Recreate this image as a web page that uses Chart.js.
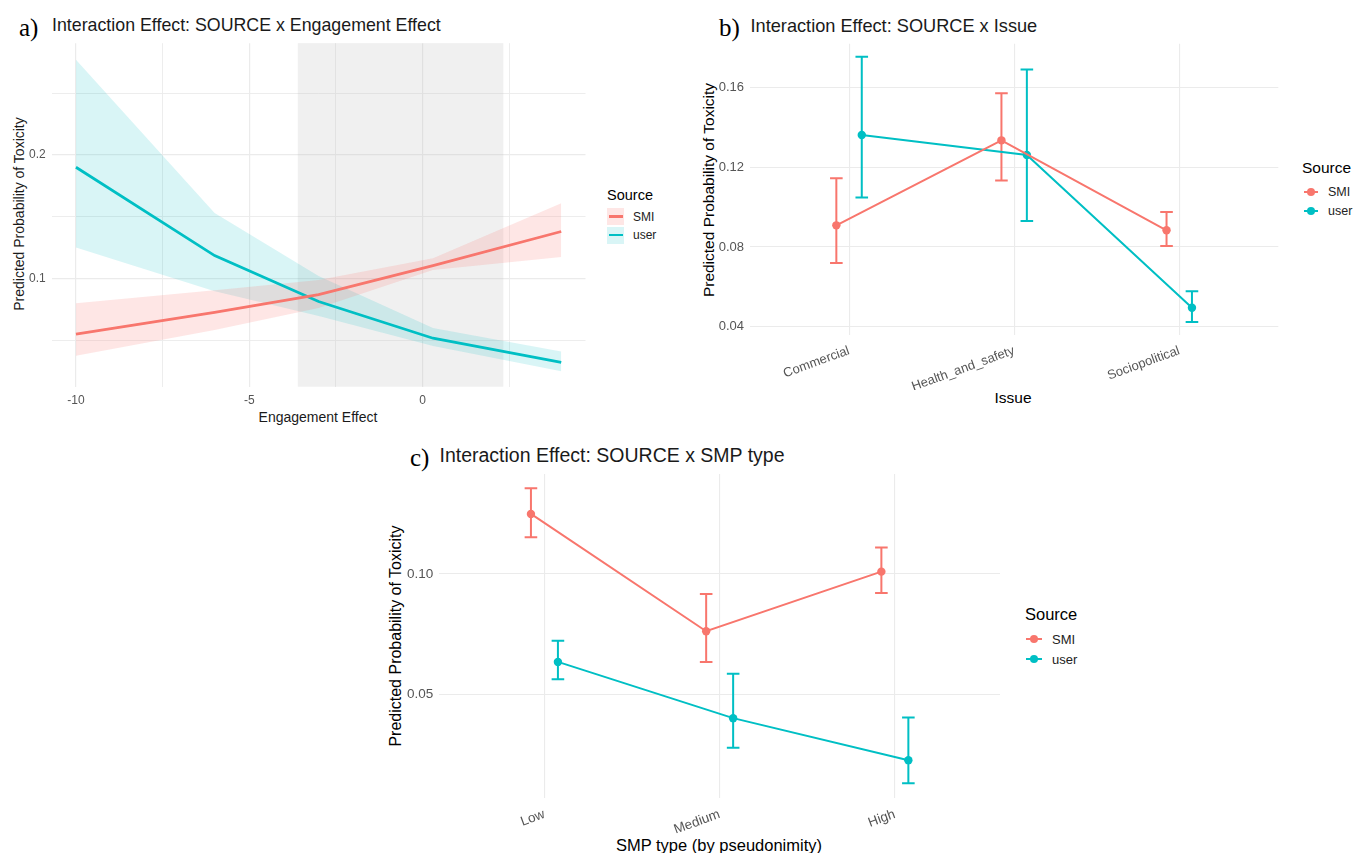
<!DOCTYPE html>
<html>
<head>
<meta charset="utf-8">
<script src="https://cdn.jsdelivr.net/npm/chart.js@4.4.1/dist/chart.umd.min.js"></script>
<style>
  html, body { margin:0; padding:0; background:#fff; }
  body { width:1354px; height:853px; position:relative; overflow:hidden; font-family:"Liberation Sans", Arial, sans-serif; }
  canvas { position:absolute; }
  .t { position:absolute; white-space:nowrap; line-height:1; transform:translateY(-50%); color:#1a1a1a; }
  .lab { position:absolute; white-space:nowrap; line-height:1; transform:translateY(-50%); font-family:"Liberation Serif", "Times New Roman", serif; color:#000; }
  .yt { position:absolute; white-space:nowrap; line-height:1; transform:translate(-50%,-50%) rotate(-90deg); color:#1a1a1a; }
  .xt { position:absolute; white-space:nowrap; line-height:1; transform:translate(-50%,-50%); color:#1a1a1a; }
  .key { position:absolute; }
</style>
</head>
<body>
<!-- Panel a -->
<div class="lab" style="left:19px;top:27px;font-size:25px;">a)</div>
<div class="t" style="left:52px;top:25.5px;font-size:17.8px;">Interaction Effect: SOURCE x Engagement Effect</div>
<div class="yt" style="left:18.5px;top:214px;font-size:14px;">Predicted Probability of Toxicity</div>
<div class="xt" style="left:318px;top:417px;font-size:14px;">Engagement Effect</div>
<canvas id="ca" width="600" height="400" style="left:0;top:30px;width:600px;height:400px"></canvas>
<div id="legA"></div>

<!-- Panel b -->
<div class="lab" style="left:719px;top:27px;font-size:25px;">b)</div>
<div class="t" style="left:750.5px;top:25.5px;font-size:18.2px;">Interaction Effect: SOURCE x Issue</div>
<div class="yt" style="left:709px;top:190px;font-size:15.5px;color:#000;">Predicted Probability of Toxicity</div>
<div class="xt" style="left:1013px;top:398px;font-size:15.5px;color:#000;">Issue</div>
<canvas id="cb" width="600" height="370" style="left:690px;top:30px;width:600px;height:370px"></canvas>
<div id="legB"></div>

<!-- Panel c -->
<div class="lab" style="left:410px;top:457px;font-size:25px;">c)</div>
<div class="t" style="left:439.5px;top:455.5px;font-size:19.5px;">Interaction Effect: SOURCE x SMP type</div>
<div class="yt" style="left:395.5px;top:636px;font-size:16px;color:#000;">Predicted Probability of Toxicity</div>
<div class="xt" style="left:719px;top:845px;font-size:16.5px;color:#000;">SMP type (by pseudonimity)</div>
<canvas id="cc" width="640" height="380" style="left:380px;top:460px;width:640px;height:380px"></canvas>
<div id="legC"></div>

<script>
// ---------------- DATA ----------------
const sourceNames = ['SMI', 'user'];
const sourceColors = ['#F8766D', '#00BFC4'];

// Panel a: Engagement Effect
const engagementX = [-10, -6, -3, 0.3, 4];
const smiFit   = [0.055, 0.0726, 0.087, 0.1105, 0.138];
const smiLower = [0.0375, 0.0584, 0.0762, 0.1068, 0.1174];
const smiUpper = [0.0799, 0.0906, 0.0988, 0.1163, 0.1608];
const userFit   = [0.190, 0.1185, 0.0814, 0.0517, 0.0321];
const userLower = [0.125, 0.0897, 0.0696, 0.0455, 0.0249];
const userUpper = [0.277, 0.153, 0.102, 0.0600, 0.041];
const highlightRange = [-3.6, 2.33];
const engagementTicks = [-10, -7.5, -5, -2.5, 0, 2.5];
const engagementTickLabels = ['-10', '', '-5', '', '0', ''];
const probTicksA = [0.05, 0.10, 0.15, 0.20, 0.25];
const probTickLabelsA = ['', '0.1', '', '0.2', ''];

// Panel b: Issue
const issueCats = ['Commercial', 'Health_and_safety', 'Sociopolitical'];
const issueSMI    = [0.0909, 0.1336, 0.0884];
const issueSMILo  = [0.0720, 0.1134, 0.0805];
const issueSMIHi  = [0.1146, 0.1572, 0.0976];
const issueUser   = [0.1363, 0.1262, 0.0495];
const issueUserLo = [0.1049, 0.0931, 0.0423];
const issueUserHi = [0.1756, 0.1692, 0.0578];
const probTicksB = [0.04, 0.08, 0.12, 0.16];
const probTickLabelsB = ['0.04', '0.08', '0.12', '0.16'];

// Panel c: SMP type
const smpCats = ['Low', 'Medium', 'High'];
const smpSMI    = [0.1248, 0.0762, 0.1009];
const smpSMILo  = [0.1151, 0.0635, 0.0920];
const smpSMIHi  = [0.1354, 0.0916, 0.1109];
const smpUser   = [0.0635, 0.0402, 0.0228];
const smpUserLo = [0.0563, 0.0279, 0.0132];
const smpUserHi = [0.0723, 0.0586, 0.0405];
const probTicksC = [0.05, 0.10];
const probTickLabelsC = ['0.05', '0.10'];

// --------------- HELPERS ---------------
const FONT = '"Liberation Sans", Arial, sans-serif';
const GRID = '#ebebeb';
const dodge = 0.077;

function pts(xs, ys) { return xs.map((x, i) => ({ x: x, y: ys[i] })); }
function dodged(n, off, ys) { return ys.map((y, i) => ({ x: i + off, y: y })); }
function rgba(hex, a) {
  const r = parseInt(hex.slice(1,3),16), g = parseInt(hex.slice(3,5),16), b = parseInt(hex.slice(5,7),16);
  return `rgba(${r},${g},${b},${a})`;
}

const errorBarPlugin = {
  id: 'errorBars',
  beforeDatasetsDraw(chart) {
    const { ctx } = chart; const y = chart.scales.y;
    chart.data.datasets.forEach((ds, di) => {
      if (!ds.errLo) return;
      const meta = chart.getDatasetMeta(di);
      ctx.save();
      ctx.strokeStyle = ds.borderColor; ctx.lineWidth = 2; ctx.lineCap = 'butt';
      meta.data.forEach((pt, i) => {
        const px = pt.x, yl = y.getPixelForValue(ds.errLo[i]), yh = y.getPixelForValue(ds.errHi[i]);
        ctx.beginPath();
        ctx.moveTo(px, yl); ctx.lineTo(px, yh);
        ctx.moveTo(px - 6.3, yl); ctx.lineTo(px + 6.3, yl);
        ctx.moveTo(px - 6.3, yh); ctx.lineTo(px + 6.3, yh);
        ctx.stroke();
      });
      ctx.restore();
    });
  }
};

const highlightPlugin = {
  id: 'highlight',
  beforeDatasetsDraw(chart, args, opts) {
    if (!opts || !opts.range) return;
    const { ctx, chartArea } = chart; const x = chart.scales.x;
    const x0 = x.getPixelForValue(opts.range[0]), x1 = x.getPixelForValue(opts.range[1]);
    ctx.save();
    ctx.fillStyle = 'rgba(185,185,185,0.22)';
    ctx.fillRect(x0, chartArea.top, x1 - x0, chartArea.bottom - chartArea.top);
    ctx.restore();
  }
};

function fixedTicks(values) {
  return (scale) => { scale.ticks = values.map(v => ({ value: v })); };
}

function baseOptions(cfg) {
  return {
    responsive: false, animation: false, devicePixelRatio: 1,
    layout: { padding: cfg.padding },
    plugins: { legend: { display: false }, tooltip: { enabled: false }, title: { display: false } },
    elements: { line: { tension: 0 } },
    scales: {
      x: {
        type: 'linear', min: cfg.xmin, max: cfg.xmax,
        afterBuildTicks: fixedTicks(cfg.xticks),
        afterFit: (s) => { s.height = cfg.xh; },
        grid: { color: cfg.xGridColor || GRID, lineWidth: cfg.xGridWidth || 1.1, drawTicks: false },
        border: { display: false },
        ticks: {
          autoSkip: false, maxRotation: cfg.rot, minRotation: cfg.rot,
          padding: cfg.xpad, color: '#555',
          font: { family: FONT, size: cfg.tickSize },
          callback: (v, i) => cfg.xlabels[i]
        }
      },
      y: {
        type: 'linear', min: cfg.ymin, max: cfg.ymax,
        afterBuildTicks: fixedTicks(cfg.yticks),
        afterFit: (s) => { s.width = cfg.yw; },
        grid: { color: cfg.yGridColor || GRID, lineWidth: cfg.yGridWidth || 1.1, drawTicks: false },
        border: { display: false },
        ticks: {
          padding: 6, color: '#555',
          font: { family: FONT, size: cfg.tickSize },
          callback: (v, i) => cfg.ylabels[i]
        }
      }
    }
  };
}

// --------------- PANEL A ---------------
const optA = baseOptions({
  padding: { left: 11.7, top: 11.7, right: 14.5, bottom: 13.3 },
  xmin: -10.7, xmax: 4.7, xticks: engagementTicks, xlabels: engagementTickLabels,
  ymin: 0.0125, ymax: 0.2903, yticks: probTicksA, ylabels: probTickLabelsA,
  xh: 30, yw: 40, rot: 0, xpad: 7, tickSize: 12,
  xGridWidth: (c) => (c.index % 2 === 0 ? 1.2 : 0.9),
  yGridWidth: (c) => (c.index % 2 === 1 ? 1.2 : 0.9)
});
optA.plugins.highlight = { range: highlightRange };

new Chart(document.getElementById('ca'), {
  type: 'line',
  data: {
    datasets: [
      { label: 'SMI', data: pts(engagementX, smiFit), borderColor: sourceColors[0], borderWidth: 2.8, pointRadius: 0, fill: false },
      { label: 'user', data: pts(engagementX, userFit), borderColor: sourceColors[1], borderWidth: 2.8, pointRadius: 0, fill: false },
      { label: 'SMI upper', data: pts(engagementX, smiUpper), borderWidth: 0, borderColor: 'rgba(0,0,0,0)', pointRadius: 0, fill: '+1', backgroundColor: rgba(sourceColors[0], 0.18) },
      { label: 'SMI lower', data: pts(engagementX, smiLower), borderWidth: 0, borderColor: 'rgba(0,0,0,0)', pointRadius: 0, fill: false },
      { label: 'user upper', data: pts(engagementX, userUpper), borderWidth: 0, borderColor: 'rgba(0,0,0,0)', pointRadius: 0, fill: '+1', backgroundColor: rgba(sourceColors[1], 0.15) },
      { label: 'user lower', data: pts(engagementX, userLower), borderWidth: 0, borderColor: 'rgba(0,0,0,0)', pointRadius: 0, fill: false }
    ]
  },
  options: optA,
  plugins: [highlightPlugin]
});

// --------------- PANEL B ---------------
const optB = baseOptions({
  padding: { left: 10, top: 13.3, right: 11.7, bottom: 10 },
  xmin: -0.6, xmax: 2.6, xticks: [0, 1, 2], xlabels: issueCats,
  ymin: 0.0358, ymax: 0.1821, yticks: probTicksB, ylabels: probTickLabelsB,
  xh: 55, yw: 50, rot: 20, xpad: 8, tickSize: 13
});
new Chart(document.getElementById('cb'), {
  type: 'line',
  data: {
    datasets: [
      { label: 'SMI', data: dodged(3, -dodge, issueSMI), errLo: issueSMILo, errHi: issueSMIHi,
        borderColor: sourceColors[0], backgroundColor: sourceColors[0], borderWidth: 2, pointRadius: 4.2, pointBorderWidth: 0, fill: false },
      { label: 'user', data: dodged(3, dodge, issueUser), errLo: issueUserLo, errHi: issueUserHi,
        borderColor: sourceColors[1], backgroundColor: sourceColors[1], borderWidth: 2, pointRadius: 4.2, pointBorderWidth: 0, fill: false }
    ]
  },
  options: optB,
  plugins: [errorBarPlugin]
});

// --------------- PANEL C ---------------
const optC = baseOptions({
  padding: { left: 9.3, top: 13.3, right: 20, bottom: 6.7 },
  xmin: -0.6, xmax: 2.6, xticks: [0, 1, 2], xlabels: smpCats,
  ymin: 0.0070, ymax: 0.1413, yticks: probTicksC, ylabels: probTickLabelsC,
  xh: 35, yw: 50, rot: 20, xpad: 8, tickSize: 13.5
});
new Chart(document.getElementById('cc'), {
  type: 'line',
  data: {
    datasets: [
      { label: 'SMI', data: dodged(3, -dodge, smpSMI), errLo: smpSMILo, errHi: smpSMIHi,
        borderColor: sourceColors[0], backgroundColor: sourceColors[0], borderWidth: 2, pointRadius: 4.2, pointBorderWidth: 0, fill: false },
      { label: 'user', data: dodged(3, dodge, smpUser), errLo: smpUserLo, errHi: smpUserHi,
        borderColor: sourceColors[1], backgroundColor: sourceColors[1], borderWidth: 2, pointRadius: 4.2, pointBorderWidth: 0, fill: false }
    ]
  },
  options: optC,
  plugins: [errorBarPlugin]
});

// --------------- LEGENDS (HTML) ---------------
function legend(el, cfg) {
  let h = `<div class="t" style="left:${cfg.x}px;top:${cfg.titleY}px;font-size:${cfg.titleSize}px;color:#000;">Source</div>`;
  sourceNames.forEach((name, i) => {
    const cy = cfg.itemY[i];
    if (cfg.band) {
      h += `<div class="key" style="left:${cfg.x}px;top:${cy - 8.5}px;width:17px;height:17px;background:${rgba(sourceColors[i], i === 0 ? 0.18 : 0.15)};"></div>`;
      h += `<div class="key" style="left:${cfg.x + 1.5}px;top:${cy - 1.4}px;width:14px;height:2.8px;background:${sourceColors[i]};"></div>`;
    } else {
      h += `<div class="key" style="left:${cfg.keyX0}px;top:${cy - 1}px;width:${cfg.keyX1 - cfg.keyX0}px;height:2px;background:${sourceColors[i]};"></div>`;
      const mx = (cfg.keyX0 + cfg.keyX1) / 2;
      h += `<div class="key" style="left:${mx - 4.2}px;top:${cy - 4.2}px;width:8.4px;height:8.4px;border-radius:50%;background:${sourceColors[i]};"></div>`;
    }
    h += `<div class="t" style="left:${cfg.labelX}px;top:${cy}px;font-size:${cfg.labelSize}px;color:#222;">${name}</div>`;
  });
  el.innerHTML = h;
}
legend(document.getElementById('legA'), { x: 607, titleY: 195, titleSize: 14.5, itemY: [216.5, 235], labelX: 633, labelSize: 12, band: true });
legend(document.getElementById('legB'), { x: 1302, titleY: 167.5, titleSize: 15.5, itemY: [192.3, 211], labelX: 1328, labelSize: 12.5, keyX0: 1304, keyX1: 1318 });
legend(document.getElementById('legC'), { x: 1025, titleY: 614, titleSize: 16.5, itemY: [639, 659], labelX: 1052, labelSize: 13, keyX0: 1026, keyX1: 1042 });
</script>
</body>
</html>
